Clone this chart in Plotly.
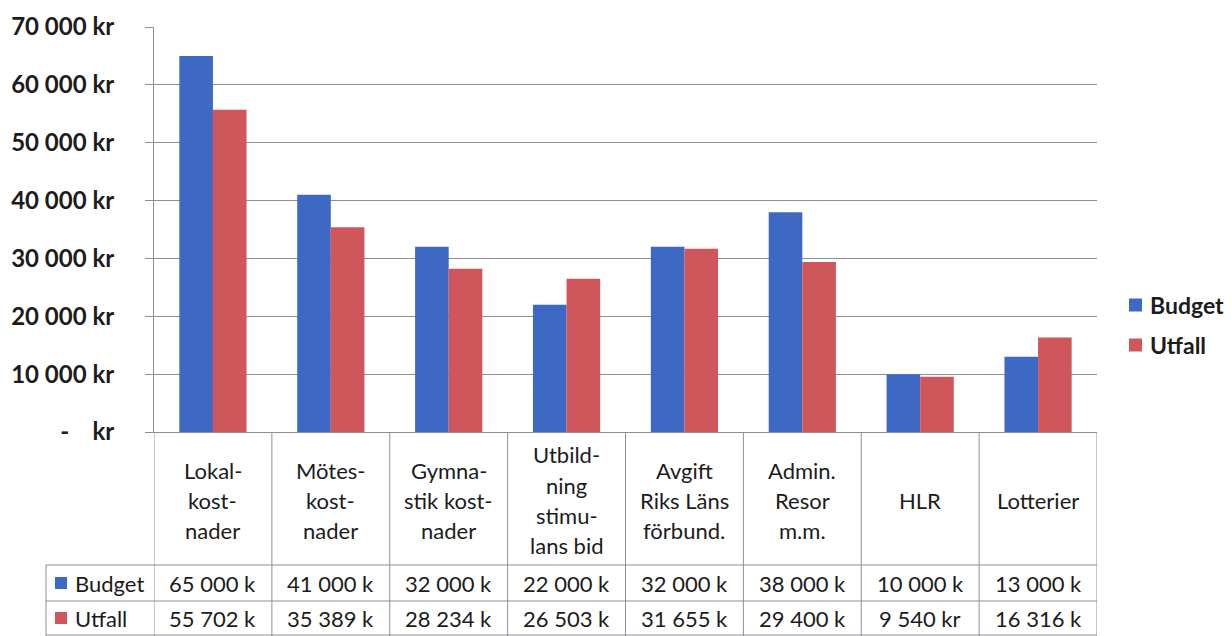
import plotly.graph_objects as go

# ---------------- data ----------------
categories = ["Lokal-<br>kost-<br>nader", "Mötes-<br>kost-<br>nader", "Gymna-<br>stik kost-<br>nader",
              "Utbild-<br>ning<br>stimu-<br>lans bid", "Avgift<br>Riks Läns<br>förbund.",
              "Admin.<br>Resor<br>m.m.", "HLR", "Lotterier"]
budget = [65000, 41000, 32000, 22000, 32000, 38000, 10000, 13000]
utfall = [55702, 35389, 28234, 26503, 31655, 29400, 9540, 16316]
budget_labels = ["65 000 k", "41 000 k", "32 000 k", "22 000 k", "32 000 k", "38 000 k", "10 000 k", "13 000 k"]
utfall_labels = ["55 702 k", "35 389 k", "28 234 k", "26 503 k", "31 655 k", "29 400 k", "9 540 kr", "16 316 k"]
series_names = ["Budget", "Utfall"]
y_tickvals = [0, 10000, 20000, 30000, 40000, 50000, 60000, 70000]
y_ticktext = ["-\u00a0\u00a0\u00a0\u00a0kr", "10 000 kr", "20 000 kr", "30 000 kr", "40 000 kr",
              "50 000 kr", "60 000 kr", "70 000 kr"]

# ---------------- style ----------------
BLUE = "#3D68C4"
RED = "#CF575B"
GRID = "#8d8f96"
TXT = "#1c1c1c"
FONT = "Lato"
W, H = 1231, 636
L, R, T, B = 154, 1231 - 1097, 27, 636 - 432
PW, PH = W - L - R, H - T - B


def py(ypx):
    return (H - B - ypx) / PH


def px(xpx):
    return (xpx - L) / PW


x_idx = list(range(len(categories)))
colors = [BLUE, RED]

fig = go.Figure()
for name, vals, col in zip(series_names, (budget, utfall), colors):
    fig.add_trace(go.Bar(x=x_idx, y=vals, name=name, marker=dict(color=col, line=dict(width=0))))

shapes = []
annotations = []
n = len(categories)
# vertical lines of the table (category boundaries)
for k in range(n + 1):
    shapes.append(dict(type="line", xref="x", yref="paper", x0=k - 0.5, x1=k - 0.5,
                       y0=py(432), y1=py(640), line=dict(color=GRID, width=1)))
# left border of data rows
shapes.append(dict(type="line", xref="paper", yref="paper", x0=px(46), x1=px(46),
                   y0=py(565), y1=py(640), line=dict(color=GRID, width=1)))
# horizontal lines
for yy in (565, 601, 635):
    shapes.append(dict(type="line", xref="paper", yref="paper", x0=px(46), x1=1,
                       y0=py(yy), y1=py(yy), line=dict(color=GRID, width=1)))
# legend keys in table
for col, yc in zip(colors, (583, 618)):
    shapes.append(dict(type="rect", xref="paper", yref="paper", x0=px(55), x1=px(67),
                       y0=py(yc - 6), y1=py(yc + 6), fillcolor=col, line=dict(width=0)))
for name, yc in zip(series_names, (583, 618)):
    annotations.append(dict(text=name, xref="paper", yref="paper", x=px(73), y=py(yc),
                            xanchor="left", yanchor="middle", showarrow=False,
                            font=dict(family=FONT, size=22, color=TXT)))

# right-hand legend
for name, col, yc in zip(series_names, colors, (305, 345)):
    shapes.append(dict(type="rect", xref="paper", yref="paper", x0=px(1129), x1=px(1142),
                       y0=py(yc - 6.5), y1=py(yc + 6.5), fillcolor=col, line=dict(width=0)))
    annotations.append(dict(text=name, xref="paper", yref="paper", x=px(1148), y=py(yc),
                            xanchor="left", yanchor="middle", showarrow=False,
                            font=dict(family=FONT, size=23, color=TXT, weight="bold")))

# header texts
LS = 30
for i, cat in enumerate(categories):
    lines = cat.split("<br>")
    m = len(lines)
    for j, ln in enumerate(lines):
        yc = 500 + (j - (m - 1) / 2) * LS
        annotations.append(dict(text=ln, xref="x", yref="paper", x=i, y=py(yc),
                                xanchor="center", yanchor="middle", showarrow=False,
                                font=dict(family=FONT, size=22, color=TXT)))
    annotations.append(dict(text=budget_labels[i], xref="x", yref="paper", x=i, y=py(583),
                            xanchor="center", yanchor="middle", showarrow=False,
                            font=dict(family=FONT, size=22, color=TXT)))
    annotations.append(dict(text=utfall_labels[i], xref="x", yref="paper", x=i, y=py(618),
                            xanchor="center", yanchor="middle", showarrow=False,
                            font=dict(family=FONT, size=22, color=TXT)))

fig.update_layout(
    width=W, height=H, autosize=False,
    margin=dict(l=L, r=R, t=T, b=B, pad=0),
    paper_bgcolor="white", plot_bgcolor="white",
    barmode="group", bargap=0.43, bargroupgap=0,
    font=dict(family=FONT, color=TXT),
    showlegend=False,
    shapes=shapes, annotations=annotations,
)
fig.update_xaxes(range=[-0.5, n - 0.5], showticklabels=False, showgrid=False, zeroline=False,
                 showline=True, linecolor=GRID, linewidth=1, ticks="", fixedrange=True)
fig.update_yaxes(range=[0, 70000], tickvals=y_tickvals, ticktext=y_ticktext,
                 showgrid=True, gridcolor=GRID, gridwidth=1, zeroline=False,
                 showline=True, linecolor=GRID, linewidth=1,
                 ticks="outside", ticklen=8, tickcolor=GRID, ticklabelstandoff=26,
                 tickfont=dict(family=FONT, size=24, color=TXT, weight="bold"), fixedrange=True,
                 automargin=False)

fig.write_html("out.html", config={"displayModeBar": False},
               post_script="document.body.style.margin='0';document.body.style.overflow='hidden';")
